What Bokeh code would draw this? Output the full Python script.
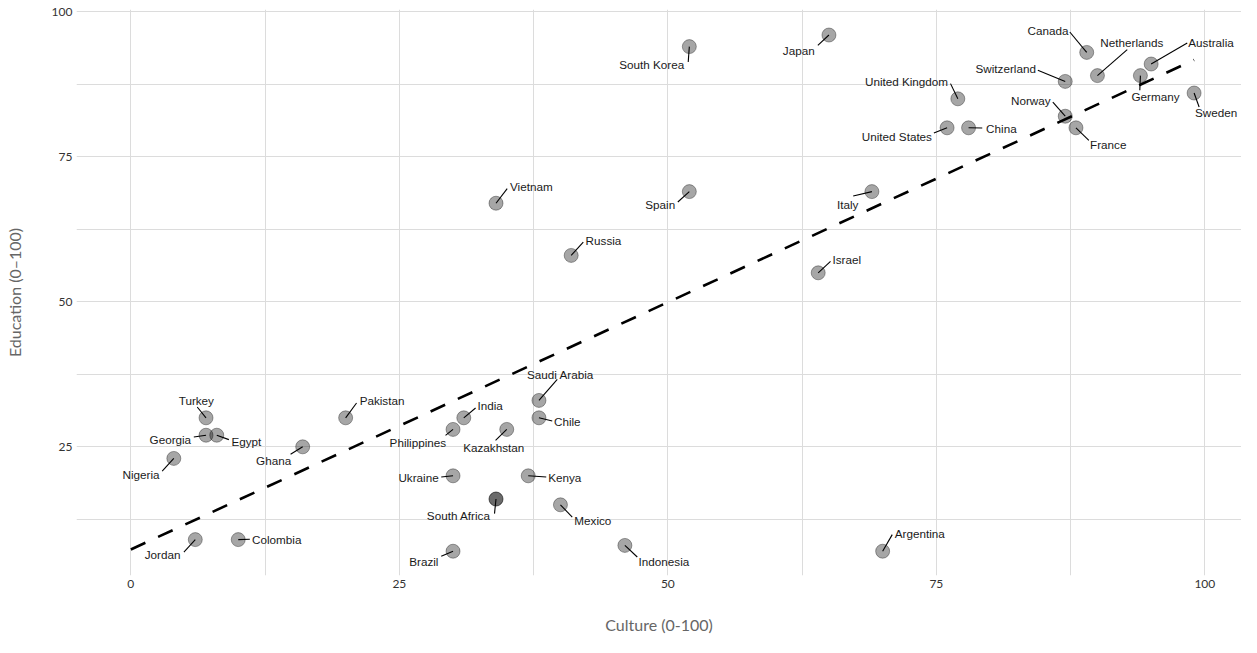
from bokeh.plotting import figure
from bokeh.models import ColumnDataSource, FixedTicker, Range1d
from bokeh.core.properties import value
from bokeh.embed import file_html
from bokeh.resources import INLINE

# ---------------- data ----------------
countries = ["South Korea", "Japan", "Canada", "Netherlands", "Australia", "Germany",
             "Switzerland", "United Kingdom", "Sweden", "Norway", "France", "United States",
             "China", "Italy", "Spain", "Vietnam", "Russia", "Israel", "Saudi Arabia", "Chile",
             "India", "Philippines", "Kazakhstan", "Ukraine", "Kenya", "South Africa", "Mexico",
             "Brazil", "Indonesia", "Argentina", "Turkey", "Pakistan", "Georgia", "Egypt",
             "Ghana", "Nigeria", "Colombia", "Jordan"]
culture = [52, 65, 89, 90, 95, 94, 87, 77, 99, 87, 88, 76, 78, 69, 52, 34, 41, 64, 38, 38,
           31, 30, 35, 30, 37, 34, 40, 30, 46, 70, 7, 20, 7, 8, 16, 4, 10, 6]
education = [94, 96, 93, 89, 91, 89, 88, 85, 86, 82, 80, 80, 80, 69, 69, 67, 58, 55, 33, 30,
             30, 28, 28, 20, 20, 16, 15, 7, 8, 7, 30, 30, 27, 27, 25, 23, 9, 9]
# points that are plotted twice (overlapping observations)
doubled = ["South Africa"]

# fitted trend line
trend_x = [0, 99]
trend_y = [7.3, 91.7]

x_ticks = [0, 25, 50, 75, 100]
x_minor = [12.5, 37.5, 62.5, 87.5]
y_ticks = [25, 50, 75, 100]
y_minor = [12.5, 37.5, 62.5, 87.5]

# ---------------- label layout (screen px offsets from point: text centre, segment end) ----------------
label_layout = {
    "South Korea": (-37.6, 18.0, -1.1, 15.4),
    "Japan": (-30.2, 15.3, -11.1, 10.3),
    "Canada": (-38.7, -22.1, -16.9, -20.4),
    "Netherlands": (34.4, -33.6, 29.8, -26.0),
    "Australia": (59.9, -22.0, 36.1, -21.0),
    "Germany": (15.1, 20.7, -0.6, 14.7),
    "Switzerland": (-59.5, -12.8, -27.4, -11.1),
    "United Kingdom": (-51.3, -17.5, -7.3, -15.2),
    "Sweden": (22.0, 19.0, 5.0, 14.0),
    "Norway": (-34.4, -15.9, -12.4, -14.2),
    "France": (32.3, 16.5, 12.9, 12.5),
    "United States": (-50.2, 8.2, -13.2, 5.2),
    "China": (32.8, 0.2, 13.7, 0.2),
    "Italy": (-24.2, 13.0, -18.7, 4.4),
    "Spain": (-29.1, 13.0, -11.5, 10.4),
    "Vietnam": (35.3, -17.2, 11.2, -14.6),
    "Russia": (32.3, -15.1, 12.1, -13.4),
    "Israel": (28.5, -13.5, 12.3, -11.5),
    "Saudi Arabia": (21.5, -26.1, 18.3, -21.1),
    "Chile": (28.3, 3.2, 13.3, 3.2),
    "India": (26.3, -12.8, 11.8, -9.8),
    "Philippines": (-35.2, 12.6, -7.5, 5.9),
    "Kazakhstan": (-13.0, 17.6, -11.2, 10.9),
    "Ukraine": (-34.5, 1.8, -11.8, 1.2),
    "Kenya": (36.5, 1.2, 18.0, 1.2),
    "South Africa": (-37.3, 16.3, -1.5, 14.6),
    "Mexico": (32.4, 15.5, 11.8, 12.2),
    "Brazil": (-29.2, 9.8, -11.8, 5.1),
    "Indonesia": (39.0, 15.6, 12.4, 11.6),
    "Argentina": (37.1, -17.6, 9.6, -16.6),
    "Turkey": (-9.7, -17.5, -8.8, -10.8),
    "Pakistan": (36.4, -17.5, 10.9, -14.8),
    "Georgia": (-35.7, 4.1, -12.2, 1.8),
    "Egypt": (29.6, 6.1, 12.1, 4.4),
    "Ghana": (-29.1, 13.5, -12.1, 7.5),
    "Nigeria": (-32.8, 15.9, -11.6, 12.6),
    "Colombia": (38.5, -0.3, 11.6, -0.3),
    "Jordan": (-32.7, 14.7, -11.4, 12.4),
}

# ---------------- geometry ----------------
W, H = 1241, 637
LEFT, RIGHT, TOP = 76, 0, 9
FW = W - LEFT - RIGHT          # frame width
FH = 566                        # frame height
BOTTOM = H - TOP - FH
PX_X = 10.74
PX_Y = 5.8
X0 = -5.06
X1 = X0 + FW / PX_X
Y1 = 100.4
Y0 = Y1 - FH / PX_Y

tx, ty, sx, sy = [], [], [], []
for c, xv, yv in zip(countries, culture, education):
    a, b, d, e = label_layout[c]
    tx.append(xv + a / PX_X)
    ty.append(yv - b / PX_Y)
    sx.append(xv + d / PX_X)
    sy.append(yv - e / PX_Y)

alphas = [0.58 if c in doubled else 0.35 for c in countries]

src = ColumnDataSource(dict(x=culture, y=education, name=countries, tx=tx, ty=ty,
                            sx=sx, sy=sy, alpha=alphas))

p = figure(width=W, height=H, output_backend="svg", toolbar_location=None,
           x_range=Range1d(X0, X1), y_range=Range1d(Y0, Y1),
           min_border_left=LEFT, min_border_right=RIGHT,
           min_border_top=TOP, min_border_bottom=BOTTOM)
p.outline_line_color = None
p.background_fill_color = "white"
p.border_fill_color = "white"

p.xaxis.ticker = FixedTicker(ticks=x_ticks, minor_ticks=x_minor)
p.yaxis.ticker = FixedTicker(ticks=y_ticks, minor_ticks=y_minor)
for g in (p.xgrid, p.ygrid):
    g.grid_line_color = "#dcdcdc"
    g.grid_line_width = 1
    g.minor_grid_line_color = "#dcdcdc"
    g.minor_grid_line_width = 1

for ax in (p.xaxis, p.yaxis):
    ax.axis_line_color = None
    ax.major_tick_line_color = None
    ax.minor_tick_line_color = None
    ax.major_tick_out = 0
    ax.major_tick_in = 0
    ax.minor_tick_out = 0
    ax.minor_tick_in = 0
    ax.major_label_text_font = "Lato"
    ax.major_label_text_font_size = "12px"
    ax.major_label_text_color = "#333333"
    ax.axis_label_text_font = "Lato"
    ax.axis_label_text_font_size = "16px"
    ax.axis_label_text_font_style = "normal"
    ax.axis_label_text_color = "#666666"

p.xaxis.axis_label = "Culture (0-100)"
p.yaxis.axis_label = "Education (0–100)"
p.xaxis.major_label_standoff = 4
p.yaxis.major_label_standoff = 4
p.xaxis.axis_label_standoff = 24
p.yaxis.axis_label_standoff = 25

p.line(trend_x, trend_y, line_color="black", line_width=2.6, line_dash="16 14")

p.scatter("x", "y", source=src, size=14, fill_color="black", fill_alpha="alpha",
          line_color="black", line_alpha="alpha", line_width=1)

p.segment(x0="x", y0="y", x1="sx", y1="sy", source=src, line_color="black", line_width=1.1)

p.text(x="tx", y="ty", text="name", source=src, text_font=value("Liberation Sans"),
       text_font_size="11.7px", text_color="#1a1a1a", text_align="center",
       text_baseline="middle")

open("out.html", "w").write(file_html(p, INLINE))
